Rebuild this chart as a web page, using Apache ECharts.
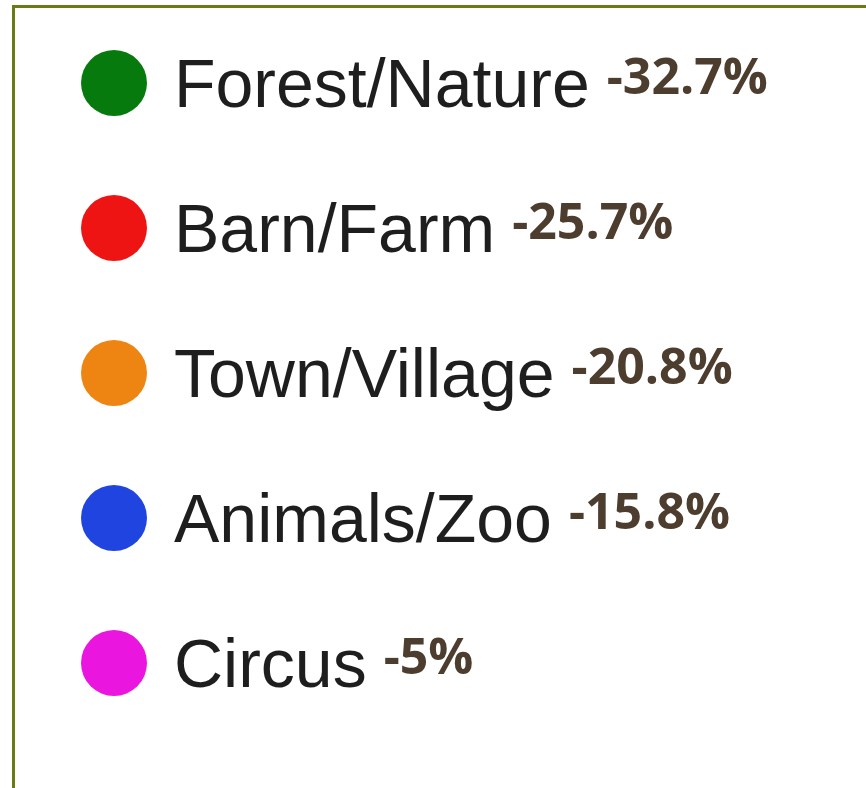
<!DOCTYPE html>
<html>
<head>
<meta charset="utf-8">
<script src="https://cdn.jsdelivr.net/npm/echarts@6/dist/echarts.min.js"></script>
<style>
html, body { margin: 0; padding: 0; background: #fff; }
.frame {
  position: absolute;
  left: 12px;
  top: 5px;
  width: 900px;
  height: 900px;
  border-left: 3px solid #6b7b14;
  border-top: 3px solid #6b7b14;
}
.main {
  position: absolute;
  left: 0;
  top: 0;
  width: 866px;
  height: 788px;
}
</style>
</head>
<body>
<div class="frame"></div>
<div id="main" class="main"></div>
<script>
// legend categories and their shares (%)
const categories = ['Forest/Nature', 'Barn/Farm', 'Town/Village', 'Animals/Zoo', 'Circus']
const shares = [32.7, 25.7, 20.8, 15.8, 5]
const colors = ['#077a0d', '#ef1414', '#ee8412', '#1f44e0', '#ea16e0']

const myChart = echarts.init(document.getElementById('main'))

const option = {
  animation: false,
  legend: {
    orient: 'vertical',
    left: 76,
    top: 39,
    icon: 'circle',
    itemWidth: 66,
    itemHeight: 66,
    itemGap: 67,
    selectedMode: false,
    data: categories,
    formatter: function(name) {
      const i = categories.indexOf(name)
      return '{n|' + name + '}{v|-' + shares[i] + '%}'
    },
    textStyle: {
      rich: {
        n: {
          fontFamily: 'Liberation Sans',
          fontSize: 68,
          lineHeight: 80,
          color: '#1e1e1e',
          padding: [10, 17, 0, 22]
        },
        v: {
          fontFamily: 'Open Sans',
          fontWeight: 'bold',
          fontSize: 50,
          lineHeight: 80,
          color: '#4d3d2e',
          padding: [0, 0, 6, 0]
        }
      }
    }
  },
  series: [
    {
      type: 'pie',
      radius: [0, 0],
      silent: true,
      label: { show: false },
      labelLine: { show: false },
      data: categories.map(function(name, i) {
        return { name: name, value: shares[i], itemStyle: { color: colors[i] } }
      })
    }
  ]
}

myChart.setOption(option)
</script>
</body>
</html>
